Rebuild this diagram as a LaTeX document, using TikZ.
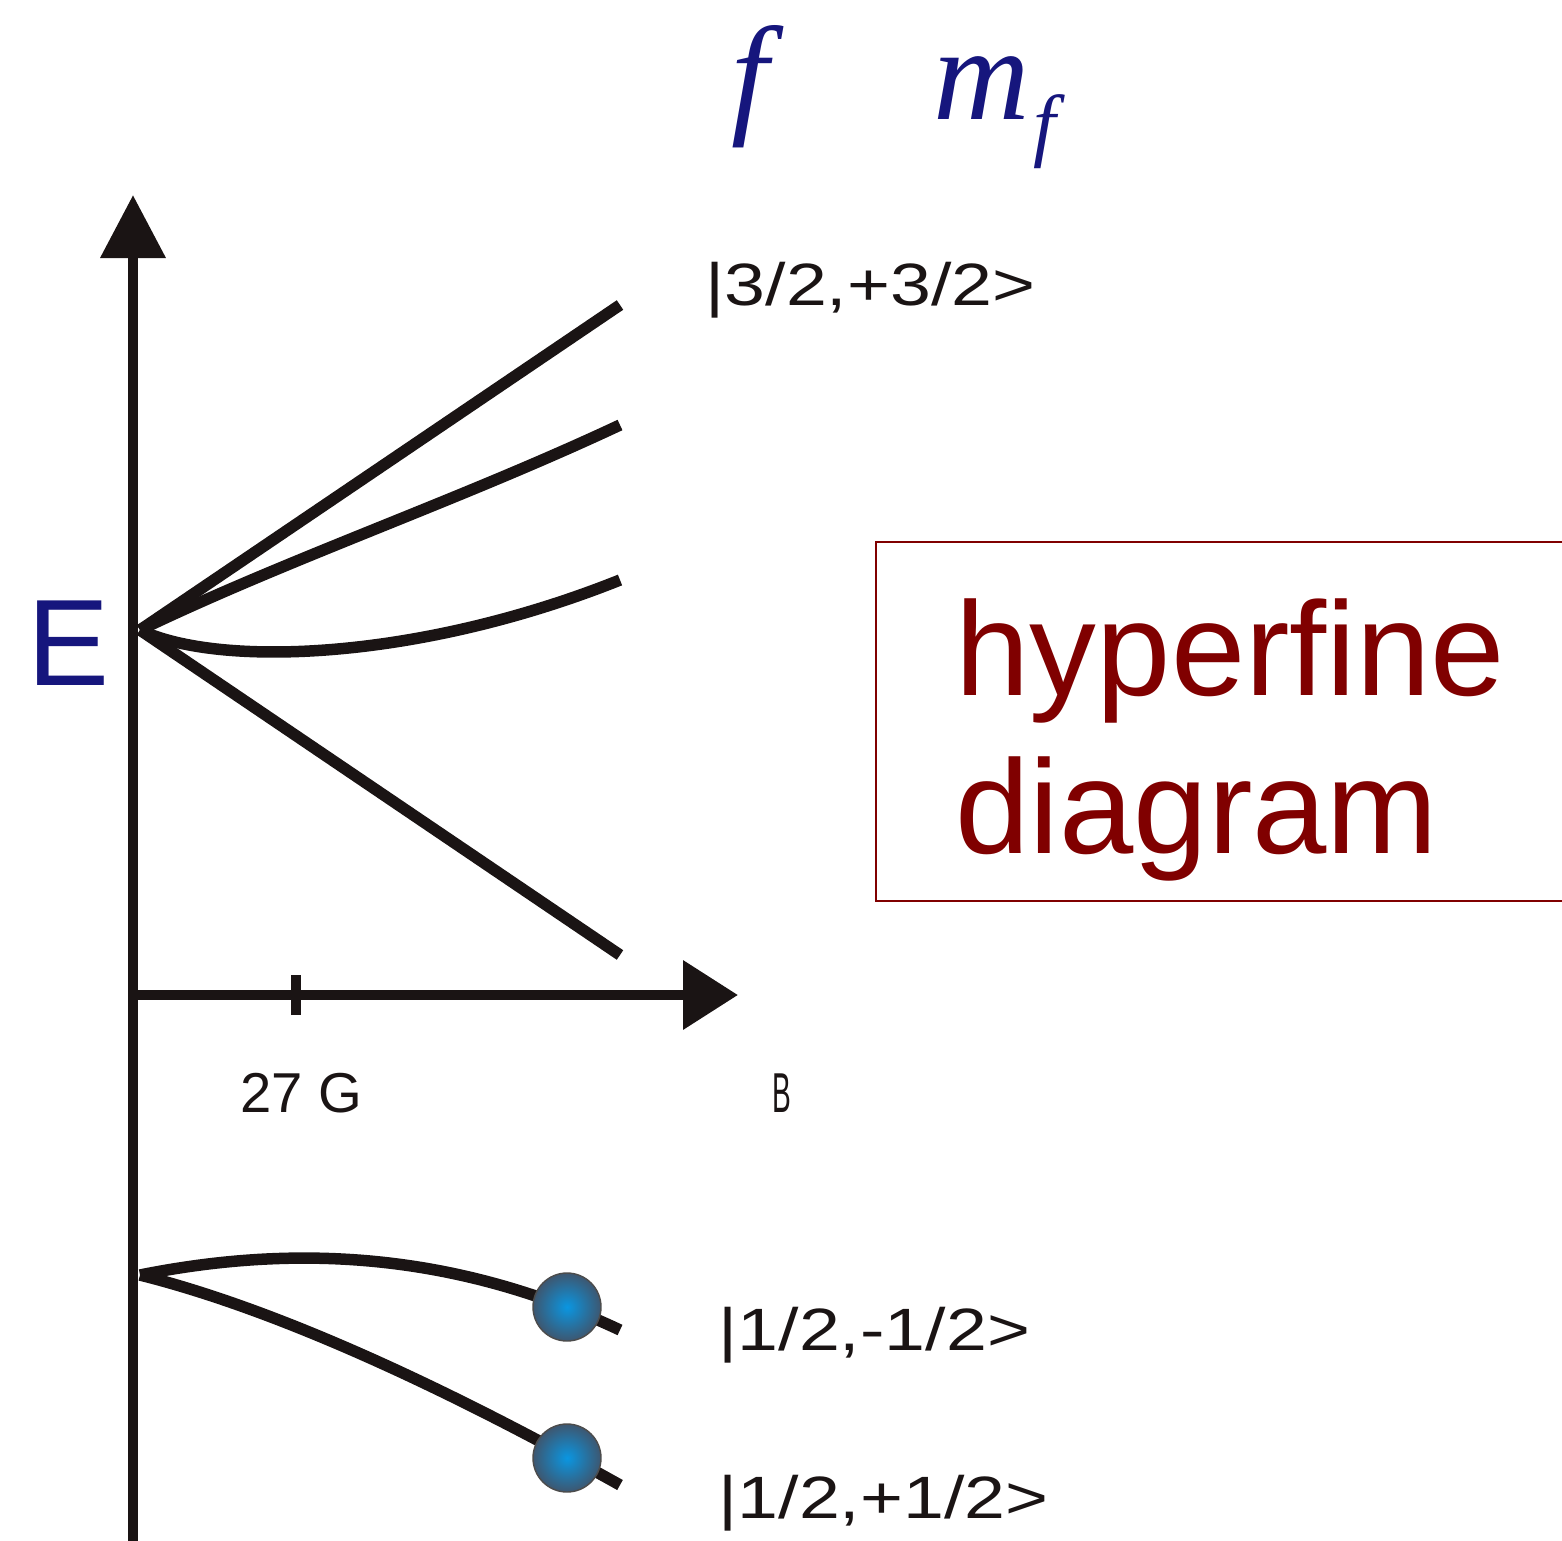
\documentclass[tikz,border=0pt]{standalone}
\usepackage{graphicx}
\usepackage{fontspec}
\setmainfont{Liberation Sans}
\newfontfamily\serifit{Liberation Serif}
\usetikzlibrary{arrows.meta,positioning}
\definecolor{ink}{RGB}{26,20,20}
\definecolor{navy}{RGB}{22,22,125}
\definecolor{maroon}{RGB}{128,0,0}
\definecolor{dotblue}{RGB}{10,150,225}
\definecolor{dotgrey}{RGB}{72,102,132}
\newcommand{\wide}[1]{\scalebox{1.23}[1]{#1}}
\tikzset{
  axis/.style={line width=1.05mm, draw=ink},
  level/.style={line width=1.15mm, draw=ink},
  atom/.style={circle, minimum size=6.8mm, inner sep=0pt, draw=black!70, thin, inner color=dotblue, outer color=dotgrey!85!black},
  ket/.style={font=\fontsize{17}{20}\selectfont, anchor=base west, inner sep=0pt, text=ink},
  axlbl/.style={font=\fontsize{16}{19}\selectfont, anchor=base, inner sep=0pt, text=ink},
  elbl/.style={font=\fontsize{35}{40}\selectfont, anchor=base, inner sep=0pt, text=navy},
  qn/.style={font=\serifit\itshape\fontsize{38}{44}\selectfont, anchor=base, inner sep=0pt, text=navy},
  hfbox/.style={draw=maroon, line width=0.7pt, minimum width=7cm, minimum height=3.59cm, inner sep=0pt},
  hftext/.style={font=\fontsize{38}{45}\selectfont, anchor=base west, inner sep=0pt, text=maroon}
}
\begin{document}
\begin{tikzpicture}
  \useasboundingbox (0,0) rectangle (15.62,15.40);
  \clip (0,0) rectangle (15.62,15.40);
  % axes
  \coordinate (yfoot) at (1.33,-0.3);
  \coordinate (ytip) at (1.33,13.45);
  \coordinate (xfoot) at (1.33,5.45);
  \coordinate (xtip) at (7.38,5.45);
  \coordinate (tick) at (2.96,5.45);
  \draw[axis, -{Triangle[length=6.3mm,width=6.3mm]}] (yfoot) -- (ytip);
  \draw[axis, -{Triangle[length=5.5mm,width=6.7mm]}] (xfoot) -- (xtip);
  \draw[axis] ([yshift=-2mm]tick) -- ([yshift=2mm]tick);
  % f = 3/2 levels
  \coordinate (up) at (1.40,9.10);
  \coordinate (u1) at (6.20,12.35);
  \coordinate (u2) at (6.20,11.15);
  \coordinate (u3) at (6.20,9.60);
  \coordinate (u4) at (6.20,5.85);
  \draw[level] (up) -- (u1);
  \draw[level] (up) .. controls (2.9,9.82) and (4.6,10.4) .. (u2);
  \draw[level] (up) .. controls (2.2,8.72) and (4.2,8.8) .. (u3);
  \draw[level] (up) -- (u4);
  % f = 1/2 levels
  \coordinate (lo) at (1.40,2.65);
  \coordinate (l1) at (6.20,2.10);
  \coordinate (l2) at (6.20,0.55);
  \draw[level] (lo) .. controls (2.9,2.95) and (4.5,2.9) .. (l1);
  \draw[level] (lo) .. controls (2.8,2.3) and (4.5,1.5) .. (l2);
  \node[atom] (a1) at (5.67,2.33) {};
  \node[atom] (a2) at (5.67,0.82) {};
  % labels
  \node[ket] (k3) at (7.05,12.35) {\wide{|3/2,+3/2>}};
  \node[ket] (k1) at (7.18,1.90) {\wide{|1/2,-1/2>}};
  \node[ket] (k2) at (7.18,0.22) {\wide{|1/2,+1/2>}};
  \node[axlbl] (bval) at (3.01,4.28) {27 G};
  \node[axlbl] (bname) at (7.82,4.28) {\scalebox{0.5}[1]{B}};
  \node[elbl] (energy) at (0.69,8.55) {E};
  \node[qn] (fq) at (7.50,14.20) {f};
  \node[qn] (mq) at (9.95,14.20) {m\kern1pt\raisebox{-9pt}{\fontsize{23}{26}\selectfont f}};
  % title box
  \node[hfbox, anchor=north west] (hfbox) at (8.75,9.99) {};
  \node[hftext] (hf1) at (9.55,8.45) {hyperfine};
  \node[hftext] (hf2) at (9.55,6.87) {diagram};
\end{tikzpicture}
\end{document}
